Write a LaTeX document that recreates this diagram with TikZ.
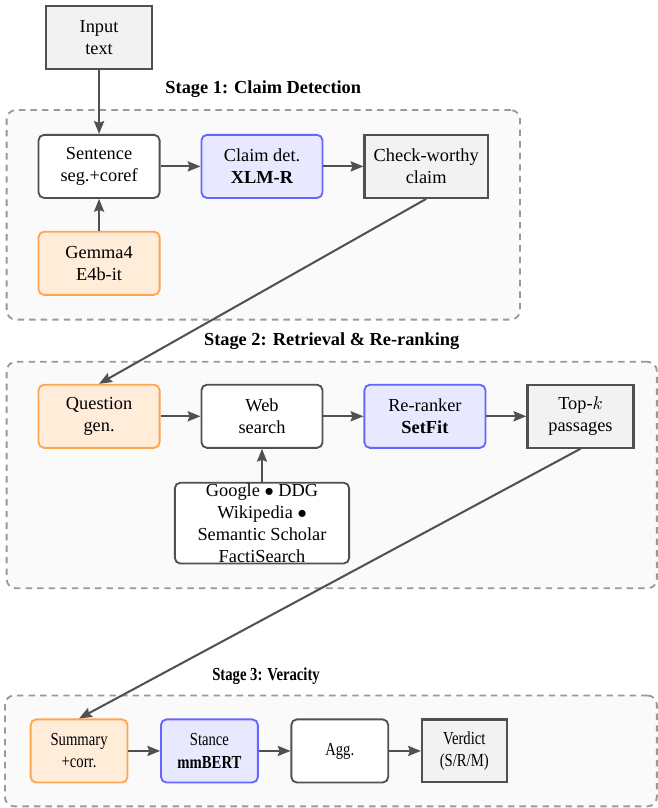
\documentclass[tikz,border=0pt]{standalone}
\usepackage{fontspec}
\setmainfont{Liberation Serif}
\usetikzlibrary{positioning,arrows.meta,fit,backgrounds}
\definecolor{palDark}{HTML}{505050}
\definecolor{palGrey}{HTML}{999999}
\definecolor{palGreyLt}{HTML}{F2F2F2}
\definecolor{palGreyBg}{HTML}{FAFAFA}
\definecolor{palBlue}{HTML}{6666FF}
\definecolor{palBlueLt}{HTML}{E8E8FF}
\definecolor{palOrange}{HTML}{FFA54F}
\definecolor{palOrangeLt}{HTML}{FFECD9}
\tikzset{
  procnode/.style={draw=palDark, fill=white, rounded corners=3pt, line width=1pt,
                   minimum width=66pt, minimum height=34.4pt, align=center, inner sep=3pt},
  llmnode/.style={procnode, draw=palOrange, fill=palOrangeLt},
  modelnode/.style={procnode, draw=palBlue, fill=palBlueLt},
  ionode/.style={draw=palDark, fill=palGreyLt, line width=1.2pt, minimum width=57.8pt,
                 minimum height=34.2pt, align=center, inner sep=5pt},
  srcnode/.style={procnode, minimum width=95pt, inner ysep=0.5pt},
  stagebox/.style={draw=palGrey, dash pattern=on 3.5pt off 2.8pt, line width=1pt,
                   rounded corners=5pt, fill=palGreyBg, inner sep=0pt},
  stagelabel/.style={font=\bfseries, inner sep=0pt},
  stdarrow/.style={-{Stealth[length=7pt,width=5.5pt,inset=1pt]}, line width=1.1pt, draw=palDark},
}
\begin{document}
\begin{tikzpicture}[node distance=21.8pt]
\useasboundingbox (0,0) rectangle (358.6pt,-440.4pt);
\coordinate (rightedge) at (358pt,0);
\coordinate (s3start) at (43.1pt,-409.3pt);
\coordinate (s3title) at (145pt,-368.4pt);
%% Stage 1
\node[ionode] (input) at (54pt,-20.4pt) {Input\\text};
\node[procnode, below=34.9pt of input] (sent) {Sentence\\seg.+coref};
\node[modelnode, right=of sent] (claimdet) {Claim det.\\\textbf{XLM-R}};
\node[ionode, right=of claimdet] (cworthy) {Check-worthy\\claim};
\node[llmnode, below=17.4pt of sent] (gemma) {Gemma4\\E4b-it};
%% Stage 2
\node[llmnode, below=48pt of gemma] (qgen) {Question\\gen.};
\node[procnode, right=of qgen] (websearch) {Web\\search};
\node[modelnode, right=of websearch] (rerank) {Re-ranker\\\textbf{SetFit}};
\node[ionode, right=of rerank] (topk) {Top-$k$\\passages};
\node[srcnode, below=18pt of websearch] (sources) {Google $\bullet$ DDG\\Wikipedia $\bullet$\\Semantic Scholar\\FactiSearch};
%% Stage 3 (condensed)
\begin{scope}[xscale=0.8, transform shape]
\node[llmnode] (summary) at (s3start) {Summary\\+corr.};
\node[modelnode, right=of summary] (stance) {Stance\\\textbf{mmBERT}};
\node[procnode, right=of stance] (agg) {Agg.};
\node[ionode, right=of agg] (verdict) {Verdict\\(S/R/M)};
\node[stagelabel] (s3lbl) at (s3title) {Stage 3: Veracity};
\end{scope}
%% Stage frames
\begin{scope}[on background layer]
\node[stagebox, inner xsep=16.9pt, inner ysep=13pt,
      fit=(sent)(claimdet)(cworthy)(gemma)] (stage1) {};
\node[stagebox, fit={([xshift=-16.9pt,yshift=12pt]qgen.north west)
      ([yshift=-13pt]rightedge |- sources.south)}] (stage2) {};
\node[stagebox, fit={([xshift=-13.6pt,yshift=12.5pt]summary.north west)
      ([yshift=-12.5pt]rightedge |- verdict.south)}] (stage3) {};
\end{scope}
\node[stagelabel, above=6pt of stage1] (s1lbl) {Stage 1: Claim Detection};
\node[stagelabel, above=6pt of stage2] (s2lbl) {Stage 2: Retrieval \& Re-ranking};
%% Edges
\draw[stdarrow] (input) -- (sent);
\draw[stdarrow] (gemma) -- (sent);
\draw[stdarrow] (sent) -- (claimdet);
\draw[stdarrow] (claimdet) -- (cworthy);
\draw[stdarrow] (cworthy.south) -- (qgen.north);
\draw[stdarrow] (qgen) -- (websearch);
\draw[stdarrow] (websearch) -- (rerank);
\draw[stdarrow] (rerank) -- (topk);
\draw[stdarrow] (sources) -- (websearch);
\draw[stdarrow] (topk.south) -- (summary.north);
\draw[stdarrow] (summary) -- (stance);
\draw[stdarrow] (stance) -- (agg);
\draw[stdarrow] (agg) -- (verdict);
\end{tikzpicture}
\end{document}
